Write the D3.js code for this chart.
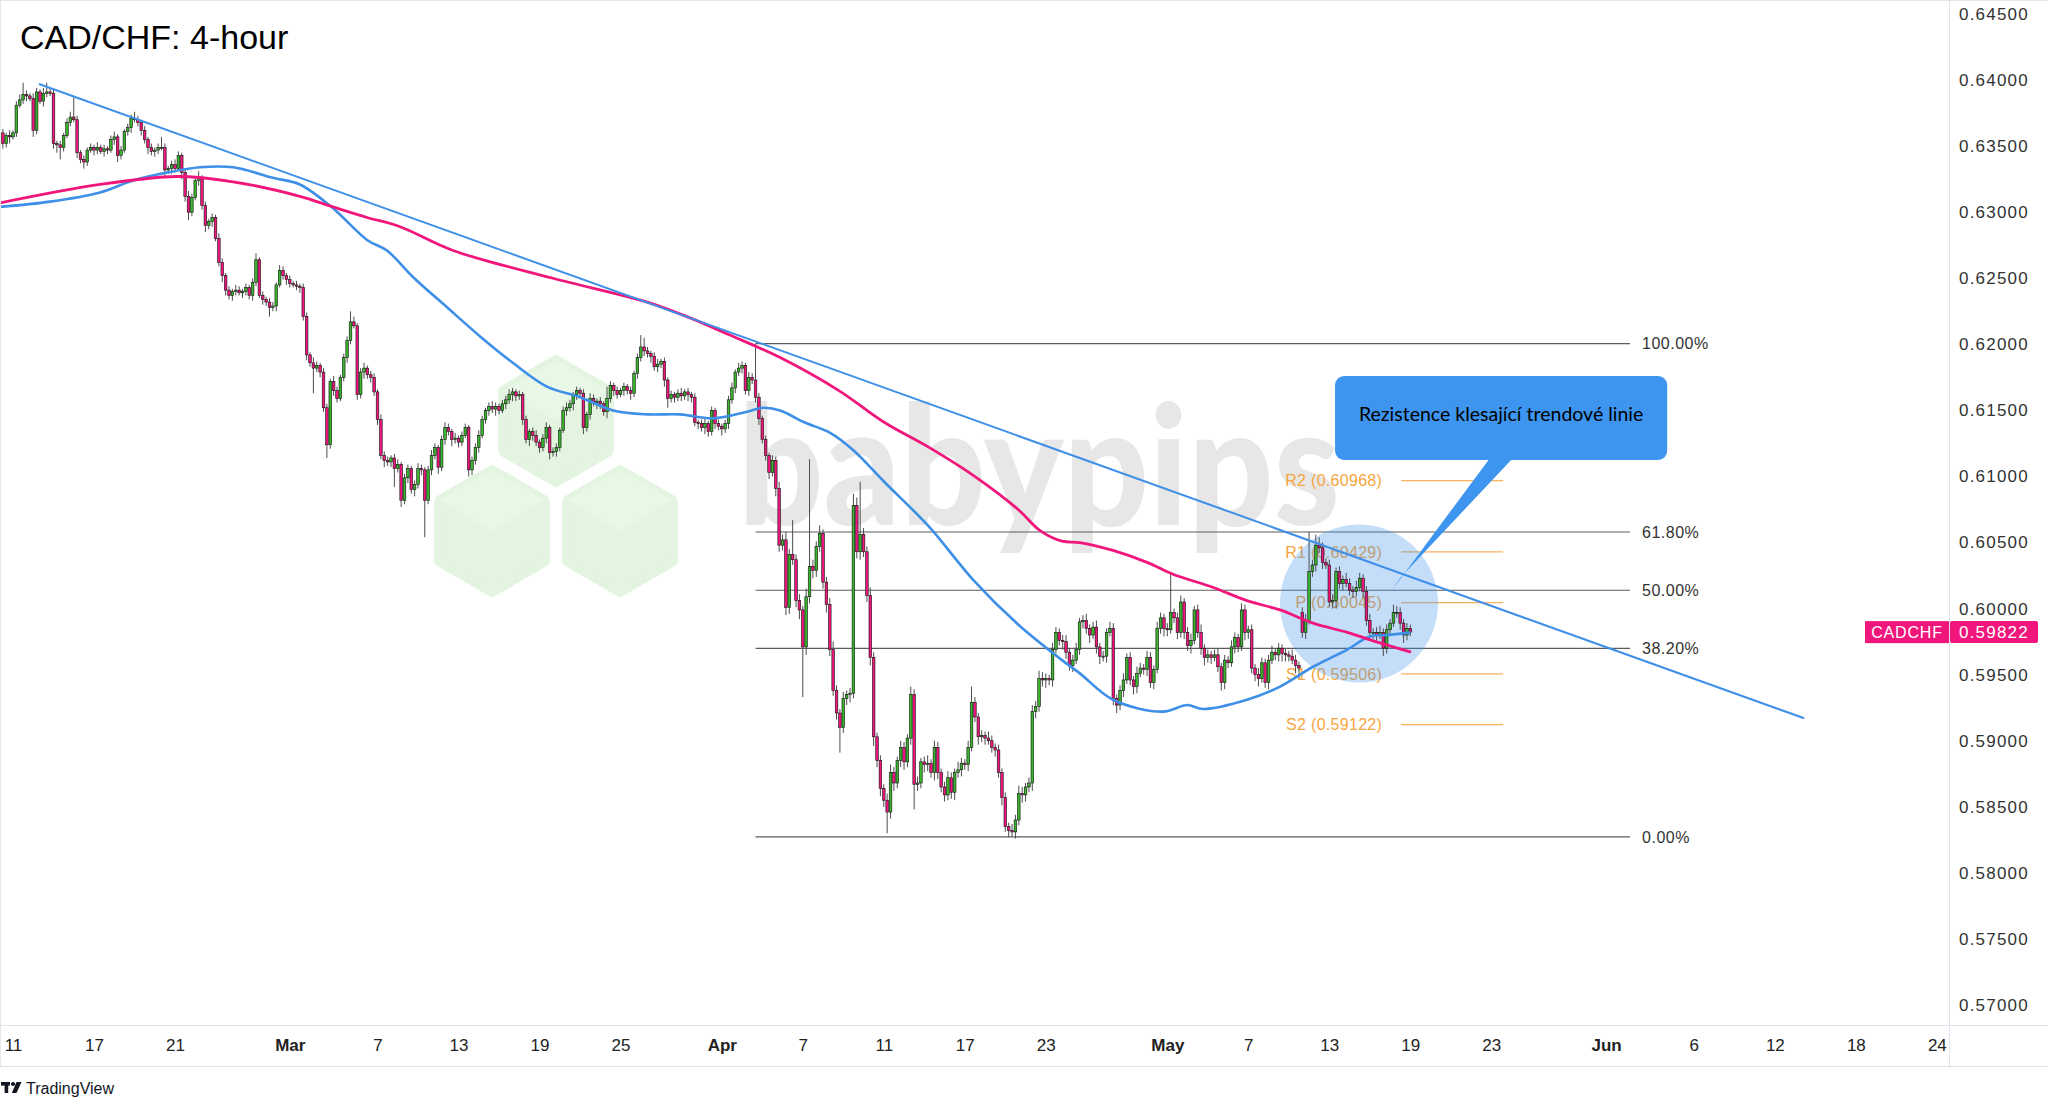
<!DOCTYPE html>
<html><head><meta charset="utf-8">
<script src="https://cdn.jsdelivr.net/npm/d3@7"></script>
<style>html,body{margin:0;padding:0;background:#fff;} svg{display:block;}</style>
</head><body>
<svg id="c" width="2048" height="1100"></svg>
<script>
// ---------------- DATA ----------------
// 4-hour closes (pips, x10000), bar index starts at -3 (Feb 11 00:00 = bar 0)
const firstBar = -3;
const firstOpen = 6360;
const gapOpens = {382: 5997};
const closes = [
6352,6358,6357,6360,6381,6385,6389,6388,6386,6362,
6391,6384,6390,6391,6390,6352,6351,6349,6358,6368,
6372,6370,6345,6340,6338,6347,6349,6347,6349,6346,
6348,6347,6355,6357,6343,6347,6361,6364,6371,6370,
6368,6362,6355,6349,6346,6347,6349,6349,6332,6333,
6336,6333,6343,6330,6312,6300,6311,6324,6326,6305,
6290,6293,6296,6280,6262,6252,6241,6237,6240,6241,
6239,6240,6243,6237,6247,6264,6237,6234,6232,6228,
6229,6245,6256,6252,6249,6246,6245,6244,6243,6221,
6192,6186,6182,6184,6179,6152,6124,6172,6165,6159,
6175,6190,6203,6217,6214,6162,6179,6182,6177,6175,
6164,6143,6116,6112,6111,6114,6106,6109,6082,6099,
6106,6090,6094,6106,6105,6082,6105,6116,6122,6107,
6128,6137,6134,6128,6129,6126,6131,6137,6105,6112,
6122,6131,6143,6150,6153,6151,6153,6150,6155,6158,
6162,6164,6161,6162,6143,6128,6134,6131,6126,6122,
6129,6137,6118,6119,6122,6135,6150,6152,6155,6162,
6165,6163,6137,6147,6159,6156,6157,6155,6149,6159,
6169,6165,6162,6165,6168,6165,6163,6178,6190,6198,
6195,6193,6191,6183,6185,6187,6173,6159,6162,6160,
6163,6161,6164,6162,6160,6141,6140,6137,6140,6134,
6150,6140,6138,6136,6140,6158,6167,6179,6182,6184,
6165,6175,6173,6160,6144,6128,6116,6103,6112,6091,
6048,6052,6001,6041,6037,6006,5999,5971,6009,6032,
6029,6047,6057,6020,6003,5969,5938,5921,5910,5932,
5935,5936,6078,6043,6056,6043,6010,5963,5903,5885,
5864,5855,5846,5876,5868,5885,5895,5884,5902,5935,
5867,5868,5884,5882,5883,5876,5895,5876,5865,5859,
5872,5861,5876,5878,5883,5882,5895,5929,5918,5903,
5904,5902,5900,5895,5893,5876,5857,5835,5832,5831,
5840,5860,5859,5865,5868,5922,5926,5947,5946,5947,
5946,5969,5982,5976,5975,5967,5957,5961,5969,5990,
5991,5985,5980,5986,5971,5964,5964,5982,5985,5932,
5927,5938,5946,5963,5946,5941,5951,5955,5954,5963,
5944,5954,5985,5993,5985,5984,5997,5993,5982,6005,
5982,5972,5976,5999,5982,5970,5963,5965,5963,5965,
5956,5944,5961,5959,5971,5978,5971,5999,5982,5984,
5955,5950,5947,5959,5944,5961,5967,5965,5970,5966,
5965,5964,5961,5957,5955,5982,5991,6028,6033,6048,
6046,6035,6033,6005,6006,6028,6019,6022,6019,6014,
6013,6016,6023,6013,5991,5982,5982,5980,5982,5970,
5984,5989,5997,5997,5989,5980,5985,5982.2];
// upper wick beyond body (pips)
const wickHi = [
3,2,4,2,3,4,9,3,2,4, 3,2,4,7,3,3,2,3,2,3, 4,15,3,2,3,2,3,2,4,2, 3,2,3,4,2,3,2,3,3,5,
3,2,3,2,3,2,3,8,3,2, 3,4,3,2,3,4,3,3,5,2, 3,2,3,2,4,3,2,3,2,4, 3,2,3,2,3,5,2,3,2,3,
3,2,4,3,2,3,2,3,2,3, 3,2,4,3,2,3,3,2,4,3, 2,3,3,8,4,2,3,4,2,3, 3,2,4,3,3,2,3,4,2,3,
3,2,3,4,3,2,3,4,3,2, 3,4,3,2,4,2,3,3,2,3, 3,4,3,2,3,4,3,2,3,3, 4,3,2,3,2,3,2,3,4,2,
3,4,2,3,3,2,3,4,3,2, 3,2,3,2,4,3,2,3,2,9, 3,2,3,2,3,2,3,2,3,9, 7,3,2,3,4,2,3,2,3,2,
3,4,2,3,2,3,2,3,4,2, 3,2,3,2,3,3,4,2,4,3, 2,4,3,27.6,3,2,3,2,4,3, 5,4,6,4,26,4,5,3,6,81,
5,4,6,3,4,5,6,4,3,5, 3,4,9,6,40,5,4,6,4,3, 4,3,5,6,4,3,5,4,3,6, 4,5,3,4,6,3,5,4,3,4,
5,4,3,6,4,3,5,12,4,3, 4,3,5,4,3,4,3,4,3,5, 4,6,5,3,4,5,4,6,5,4, 3,5,4,3,4,5,3,4,5,3,
4,5,3,4,5,3,4,3,5,4, 3,4,5,3,4,3,5,4,3,5, 4,3,5,4,3,4,30,3,4,5, 3,4,5,3,4,6,3,4,3,4,
5,3,4,3,5,4,3,5,4,3, 4,3,5,4,3,4,5,3,4,3, 4,3,5,4,3,4,5,30,4,8, 6,4,3,4,5,3,4,3,5,4,
3,5,4,3,4,5,3,4,5,3, 4,3,6,5,4,3,4,3];
// lower wick beyond body (pips)
const wickLo = [
4,3,5,2,3,2,3,4,2,5, 3,2,4,3,2,4,6,9,3,2, 3,2,4,3,5,3,2,4,3,2, 4,3,2,4,5,3,2,3,4,2,
3,4,3,5,3,4,3,2,5,3, 4,3,2,5,4,6,3,2,4,3, 5,3,4,2,3,5,4,3,4,3, 2,4,3,3,4,3,2,4,3,7,
3,4,2,3,4,3,2,3,4,3, 4,3,19,3,4,3,10,3,4,3, 2,3,4,3,2,4,3,5,3,4, 3,4,3,5,3,4,14,3,5,3,
4,3,5,3,4,28,3,4,3,5, 3,4,3,5,3,4,3,2,5,4, 3,4,2,3,4,3,5,3,2,4, 3,5,4,3,4,3,5,4,3,4,
3,4,5,3,4,3,2,4,3,5, 4,3,5,3,4,3,5,4,3,5, 3,4,3,2,4,3,5,3,4,3, 4,3,5,3,4,3,5,7,3,4,
3,4,3,5,4,3,4,3,5,4, 3,4,3,5,3,4,3,4,3,4, 3,4,3,4,5,3,4,5,3,6, 5,4,6,5,4,5,7,38,6,5,
6,5,4,5,6,5,4,5,19,4, 5,6,4,5,6,4,5,6,7,5, 6,5,16,5,6,4,5,6,4,5, 19,5,4,6,5,4,6,5,4,5,
4,5,6,4,5,4,5,3,4,6, 4,5,3,4,5,4,6,4,5,3.8, 5,4,6,5,4,6,5,4,5,6, 4,5,3,4,6,5,4,5,3,4,
5,4,6,3,5,6,4,5,3,5, 6,4,5,3,4,6,5,3,4,5, 4,5,3,4,6,5,3,4,5,4, 5,4,6,3,4,5,6,4,5,3,
4,6,5,4,3,5,4,3,6,5, 4,5,6,3,4,5,3,4,5,6, 5,4,3,6,8,4,5,3,4,5, 4,5,3,4,5,6,4,5,3,4,
5,4,3,5,4,6,5,4,3,6, 4,5,3,4,5,6,4,3];

// moving averages (bar index, pips)
const maSlowBars = [-3.9,25.8,48.6,65.2,85,94.8,104.9,114.7,130.4,160,187.9,200.6,212.4,227.3,244.7,258.1,271.4,284.4,297.8,304.3,310.8,316.1,325.9,336,343.7,355.6,365.6,375.4,385.2,395.3,405,414.2];
const maSlowVals = [6307,6321,6327,6323,6312,6304,6296,6289,6271,6250,6232,6220,6207,6190,6165,6141,6122,6101,6075,6059,6051,6050,6044,6035,6026,6016,6006,5999,5989,5982,5974,5967];
const maFastBars = [-3.9,11,25.8,35.6,45.6,55.4,65.2,77,85,94.8,104.9,110.8,118.5,128.6,138.4,148.1,158.2,168,177.8,187.9,197.6,207.4,217.5,222.2,227.3,234.4,242.1,248.9,258.1,271.4,284.4,297.8,310.8,316.1,325.9,340.7,347.9,352.6,365.6,375.4,385.2,395.3,402.1,407.1,414];
const maFastVals = [6304,6308,6315,6324,6330,6334,6334,6326,6321,6303,6279,6271,6251,6228,6206,6186,6168,6160,6150,6147,6147,6144,6149,6152,6150,6141,6133,6120,6096,6062,6022,5988,5961,5951,5931,5922,5927,5924,5931,5941,5956,5969,5979,5980,5982];

const trendBars = [7.7, 530.7];
const trendVals = [0.6397, 0.5917];

const fibHigh = 0.62006, fibLow = 0.58272;
const fibRatios = [1, 0.618, 0.5, 0.382, 0];
const fibLabels = ["100.00%", "61.80%", "50.00%", "38.20%", "0.00%"];
const fibBars = [220, 479.1];

const pivotNames = ["R2", "R1", "P", "S1", "S2"];
const pivotVals = [0.60968, 0.60429, 0.60045, 0.59506, 0.59122];
const pivotBars = [411.3, 441.5];

const tickBars = [0,24,48,82,108,132,156,180,210,234,258,282,306,342,366,390,414,438,472,498,522,546,570];
const tickLabels = ["11","17","21","Mar","7","13","19","25","Apr","7","11","17","23","May","7","13","19","23","Jun","6","12","18","24"];
const yTickValues = [0.570,0.575,0.580,0.585,0.590,0.595,0.600,0.605,0.610,0.615,0.620,0.625,0.630,0.635,0.640,0.645];
const lastPrice = 0.59822;
const symbol = "CADCHF";
const title = "CAD/CHF: 4-hour";
const calloutText = "Rezistence klesající trendové linie";

// ---------------- LAYOUT ----------------
const W = 2048, H = 1100, plotR = 1949, plotB = 1025;
const PINK = "#f0167c", GREEN = "#38b52b", BLUE = "#3d8fe8", ORANGE = "#f7a541";
const FONT = "'Liberation Sans', Arial, sans-serif";

const x = d3.scaleLinear().domain([-3.85, 573.6]).range([0, plotR]);
const y = d3.scaleLinear().domain([0.57, 0.645]).range([1005, 14]);
const pv = v => v / 10000;

const svg = d3.select("#c");
svg.append("rect").attr("width", W).attr("height", H).attr("fill", "#fff");

const defs = svg.append("defs");
defs.append("clipPath").attr("id", "plot").append("rect").attr("x", 0).attr("y", 0).attr("width", plotR).attr("height", plotB);

const g = svg.append("g").attr("clip-path", "url(#plot)");

// watermark hexagons
function hexPts(cx, cy, r) {
  return d3.range(6).map(k => { const a = (-90 + 60 * k) * Math.PI / 180; return [cx + r * Math.cos(a), cy + r * Math.sin(a)]; });
}
[[556, 421], [492, 531], [620, 531]].forEach(([cx, cy]) => {
  const r = 61;
  g.append("polygon").attr("points", hexPts(cx, cy, r).join(" "))
    .attr("fill", "#e3f4e0").attr("stroke", "#e3f4e0").attr("stroke-width", 10).attr("stroke-linejoin", "round");
  const p = hexPts(cx, cy, r);
  g.append("polygon").attr("points", [p[5], p[0], p[1], [cx, cy]].join(" ")).attr("fill", "#e9f7e7");
});
// watermark text
g.append("text").attr("x", 738).attr("y", 525).attr("textLength", 602).attr("lengthAdjust", "spacingAndGlyphs")
  .attr("font-family", "Lato, 'DejaVu Sans', sans-serif").attr("font-weight", 900).attr("font-size", 166)
  .attr("fill", "#e7e7e7").text("babypips");

// fib lines
fibRatios.forEach((r, k) => {
  const v = fibLow + (fibHigh - fibLow) * r;
  g.append("line").attr("x1", x(fibBars[0])).attr("x2", x(fibBars[1])).attr("y1", y(v)).attr("y2", y(v))
    .attr("stroke", "#5d5d5d").attr("stroke-width", 1.2);
  g.append("text").attr("x", x(fibBars[1]) + 12).attr("y", y(v)).attr("dy", "0.36em")
    .attr("font-family", FONT).attr("font-size", 16).attr("letter-spacing", 0.5).attr("fill", "#333").text(fibLabels[k]);
});

// pivot lines
pivotVals.forEach((v, k) => {
  g.append("line").attr("x1", x(pivotBars[0])).attr("x2", x(pivotBars[1])).attr("y1", y(v)).attr("y2", y(v))
    .attr("stroke", ORANGE).attr("stroke-width", 1.2).attr("opacity", 0.85);
  g.append("text").attr("x", x(pivotBars[0]) - 19).attr("y", y(v)).attr("dy", "0.36em").attr("text-anchor", "end")
    .attr("font-family", FONT).attr("font-size", 16).attr("letter-spacing", 0.3).attr("fill", ORANGE)
    .text(`${pivotNames[k]} (${v.toFixed(5)})`);
});

// highlight circle
g.append("circle").attr("cx", x(398.8)).attr("cy", y(0.60039)).attr("r", 79).attr("fill", BLUE).attr("opacity", 0.3);

// candles
const bars = closes.map((c, k) => {
  const i = firstBar + k;
  const o = k === 0 ? firstOpen : (gapOpens[i] !== undefined ? gapOpens[i] : closes[k - 1]);
  return { i, o: pv(o), c: pv(c), h: pv(Math.max(o, c) + wickHi[k]), l: pv(Math.min(o, c) - wickLo[k]) };
});
const cg = g.append("g");
cg.selectAll("line.w").data(bars).join("line").attr("class", "w")
  .attr("x1", d => x(d.i)).attr("x2", d => x(d.i)).attr("y1", d => y(d.h)).attr("y2", d => y(d.l))
  .attr("stroke", "#4d4d4d").attr("stroke-width", 1);
const bw = 2.6;
cg.selectAll("rect.b").data(bars).join("rect").attr("class", "b")
  .attr("x", d => x(d.i) - bw / 2).attr("width", bw)
  .attr("y", d => y(Math.max(d.o, d.c)))
  .attr("height", d => Math.max(1, Math.abs(y(d.o) - y(d.c))))
  .attr("fill", d => d.c >= d.o ? GREEN : PINK).attr("stroke", "#111").attr("stroke-width", 0.6);

// moving averages
const ln = d3.line().x(d => x(d[0])).y(d => y(pv(d[1]))).curve(d3.curveCatmullRom.alpha(0.5));
g.append("path").attr("d", ln(maFastBars.map((b, k) => [b, maFastVals[k]])))
  .attr("fill", "none").attr("stroke", BLUE).attr("stroke-width", 2.6);
g.append("path").attr("d", ln(maSlowBars.map((b, k) => [b, maSlowVals[k]])))
  .attr("fill", "none").attr("stroke", PINK).attr("stroke-width", 2.8);

// trend line
g.append("line").attr("x1", x(trendBars[0])).attr("y1", y(trendVals[0])).attr("x2", x(trendBars[1])).attr("y2", y(trendVals[1]))
  .attr("stroke", BLUE).attr("stroke-width", 2);

// callout
const bx0 = x(391.7), bx1 = x(490.1), by0 = y(0.6176), by1 = y(0.61125);
svg.append("polygon").attr("points", [[bx0 + 155, by1 - 2], [bx0 + 178, by1 - 2], [x(408.6) + 8, y(0.60141) - 12], [x(408.6), y(0.60141)]].join(" "))
  .attr("fill", "#3d95f0");
svg.append("rect").attr("x", bx0).attr("y", by0).attr("width", bx1 - bx0).attr("height", by1 - by0).attr("rx", 9)
  .attr("fill", "#3d95f0");
svg.append("text").attr("x", (bx0 + bx1) / 2).attr("y", (by0 + by1) / 2 - 4).attr("dy", "0.35em").attr("text-anchor", "middle")
  .attr("font-family", "Lato, 'Open Sans', sans-serif").attr("font-size", 19.5).attr("fill", "#000").text(calloutText);

// title
svg.append("text").attr("x", 20).attr("y", 49).attr("font-family", FONT).attr("font-size", 34).attr("fill", "#000").text(title);

// frame lines
svg.append("line").attr("x1", 0).attr("x2", W).attr("y1", 0.5).attr("y2", 0.5).attr("stroke", "#e6e6e6");
svg.append("line").attr("x1", 0.5).attr("x2", 0.5).attr("y1", 0).attr("y2", 1066).attr("stroke", "#e6e6e6");
svg.append("line").attr("x1", plotR + 0.5).attr("x2", plotR + 0.5).attr("y1", 0).attr("y2", 1066).attr("stroke", "#e0e3eb");
svg.append("line").attr("x1", 0).attr("x2", W).attr("y1", plotB + 0.5).attr("y2", plotB + 0.5).attr("stroke", "#e0e3eb");
svg.append("line").attr("x1", 0).attr("x2", W).attr("y1", 1066.5).attr("y2", 1066.5).attr("stroke", "#e0e3eb");

// y axis
const ya = svg.append("g").attr("transform", `translate(${plotR + 10},0)`)
  .call(d3.axisRight(y).tickValues(yTickValues).tickFormat(d3.format(".5f")).tickSize(0).tickPadding(0));
ya.select(".domain").remove();
ya.selectAll("text").attr("font-family", FONT).attr("font-size", 17).attr("letter-spacing", 1.2).attr("fill", "#333");

// x axis
const xa = svg.append("g").attr("transform", `translate(0,${plotB})`)
  .call(d3.axisBottom(x).tickValues(tickBars).tickFormat((d, k) => tickLabels[k]).tickSize(0).tickPadding(14));
xa.select(".domain").remove();
xa.selectAll("text").attr("font-family", FONT).attr("font-size", 17).attr("fill", "#222")
  .attr("font-weight", (d, k) => /[A-Za-z]/.test(tickLabels[k]) ? 700 : 400);

// last price label
const ly = y(lastPrice);
svg.append("rect").attr("x", 1865).attr("y", ly - 11).attr("width", 84).attr("height", 22).attr("fill", PINK);
svg.append("text").attr("x", 1907).attr("y", ly).attr("dy", "0.36em").attr("text-anchor", "middle")
  .attr("font-family", FONT).attr("font-size", 16).attr("letter-spacing", 0.8).attr("fill", "#fff").text(symbol);
svg.append("rect").attr("x", plotR + 1).attr("y", ly - 11).attr("width", 88).attr("height", 22).attr("rx", 2).attr("fill", PINK);
svg.append("text").attr("x", plotR + 10).attr("y", ly).attr("dy", "0.36em")
  .attr("font-family", FONT).attr("font-size", 17).attr("letter-spacing", 1.2).attr("fill", "#fff").text(d3.format(".5f")(lastPrice));

// TradingView footer
const lg = svg.append("g").attr("fill", "#131722");
lg.append("rect").attr("x", 1).attr("y", 1082).attr("width", 9).attr("height", 3.6);
lg.append("rect").attr("x", 4.6).attr("y", 1082).attr("width", 3.6).attr("height", 11);
lg.append("circle").attr("cx", 13).attr("cy", 1084).attr("r", 2.1);
lg.append("polygon").attr("points", "16.5,1082 21.5,1082 16.5,1093 11.8,1093");
svg.append("text").attr("x", 26).attr("y", 1094).attr("font-family", FONT).attr("font-size", 16).attr("fill", "#131722").text("TradingView");
</script>
</body></html>
